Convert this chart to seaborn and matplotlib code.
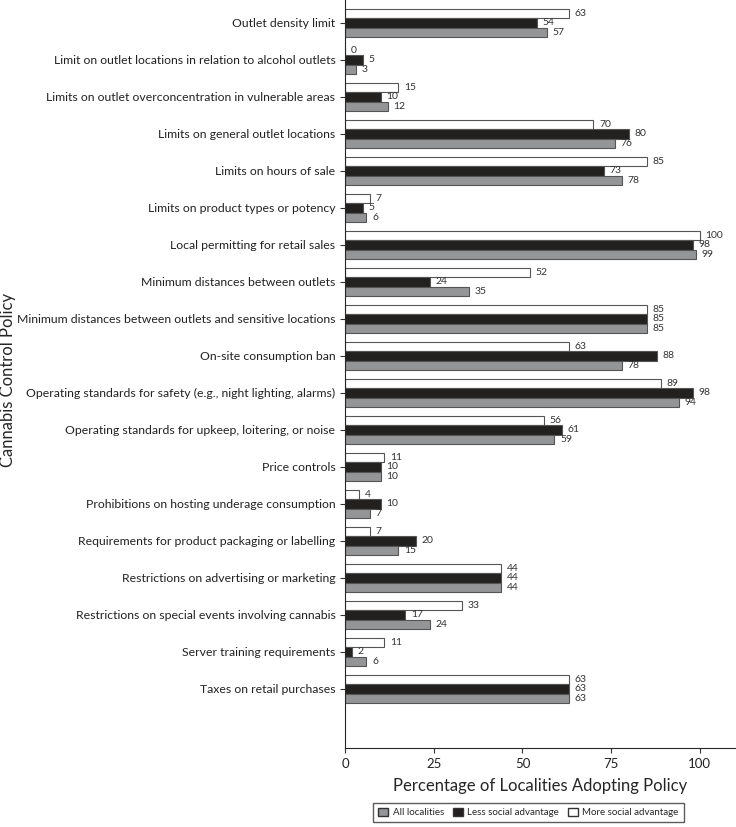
import matplotlib
matplotlib.use("Agg")
import matplotlib.pyplot as plt
from matplotlib.patches import Patch
import seaborn as sns
import pandas as pd

policies = [
    "Outlet density limit",
    "Limit on outlet locations in relation to alcohol outlets",
    "Limits on outlet overconcentration in vulnerable areas",
    "Limits on general outlet locations",
    "Limits on hours of sale",
    "Limits on product types or potency",
    "Local permitting for retail sales",
    "Minimum distances between outlets",
    "Minimum distances between outlets and sensitive locations",
    "On-site consumption ban",
    "Operating standards for safety (e.g., night lighting, alarms)",
    "Operating standards for upkeep, loitering, or noise",
    "Price controls",
    "Prohibitions on hosting underage consumption",
    "Requirements for product packaging or labelling",
    "Restrictions on advertising or marketing",
    "Restrictions on special events involving cannabis",
    "Server training requirements",
    "Taxes on retail purchases",
]
more_adv = [63, 0, 15, 70, 85, 7, 100, 52, 85, 63, 89, 56, 11, 4, 7, 44, 33, 11, 63]
less_adv = [54, 5, 10, 80, 73, 5, 98, 24, 85, 88, 98, 61, 10, 10, 20, 44, 17, 2, 63]
all_loc = [57, 3, 12, 76, 78, 6, 99, 35, 85, 78, 94, 59, 10, 7, 15, 44, 24, 6, 63]

groups = ["More social advantage", "Less social advantage", "All localities"]
colors = {"More social advantage": "#ffffff",
          "Less social advantage": "#231f20",
          "All localities": "#939598"}

df = pd.DataFrame({
    "policy": policies * 3,
    "group": [groups[0]] * 19 + [groups[1]] * 19 + [groups[2]] * 19,
    "value": more_adv + less_adv + all_loc,
})

sns.set_style("ticks")
plt.rcParams["font.family"] = ["Lato", "DejaVu Sans"]

fig = plt.figure(figsize=(7.36, 8.27), dpi=100)
ax = fig.add_axes([0.469, 0.0955, 0.53, 0.9045])

sns.barplot(data=df, y="policy", x="value", hue="group", hue_order=groups,
            order=policies, palette=colors, orient="h", width=0.76,
            edgecolor="#555555", linewidth=0.8, legend=False, ax=ax)

for cont in ax.containers:
    ax.bar_label(cont, fmt="%d", padding=4, fontsize=7.5, color="#333333")

ax.set_xlim(0, 110)
ax.set_ylim(19.6, -0.62)
ax.set_xticks([0, 25, 50, 75, 100])
ax.tick_params(axis="y", labelsize=8.8, color="#333333", labelcolor="#222222")
ax.tick_params(axis="x", labelsize=9.5, color="#333333", labelcolor="#222222")
ax.set_xlabel("Percentage of Localities Adopting Policy", fontsize=12, labelpad=6)
ax.set_ylabel("")
fig.text(0.011, 0.54, "Cannabis Control Policy", rotation=90, fontsize=12,
         ha="center", va="center")
sns.despine(ax=ax)

handles = [Patch(facecolor=colors[g], edgecolor="#333333", label=g) for g in groups[::-1]]
fig.legend(handles=handles, loc="lower center", bbox_to_anchor=(0.718, 0.0), ncol=3,
           fontsize=7, frameon=True, fancybox=False, edgecolor="#333333",
           handlelength=1.0, handleheight=1.0, columnspacing=0.9,
           handletextpad=0.5, borderpad=0.5)

fig.savefig("out.png", dpi=100)
